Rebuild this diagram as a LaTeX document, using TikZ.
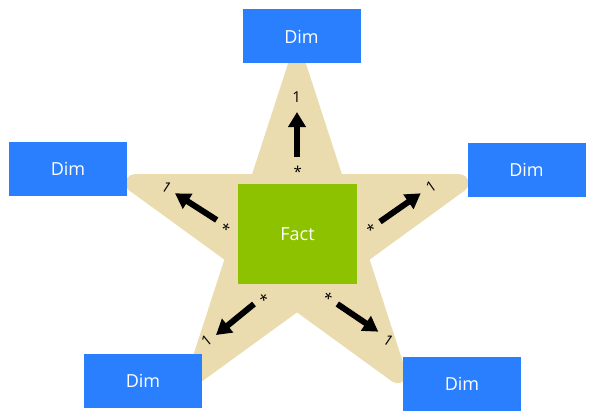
\documentclass[tikz,border=0pt]{standalone}
\usepackage{fontspec}
\setmainfont{Open Sans}
\definecolor{dimblue}{RGB}{42,127,255}
\definecolor{factgreen}{RGB}{140,194,0}
\definecolor{startan}{RGB}{235,220,175}
\usetikzlibrary{arrows.meta, calc}

\begin{document}
\begin{tikzpicture}[x=1pt, y=-1pt,
  dimbox/.style={fill=dimblue, text=white, minimum width=118pt,
    minimum height=54pt, inner sep=0pt, font=\fontsize{18}{21}\selectfont},
  factbox/.style={fill=factgreen, text=white, minimum width=119pt,
    minimum height=100pt, inner sep=0pt, font=\fontsize{18}{21}\selectfont},
  relarrow/.style={line width=6pt, -{Triangle[length=15pt, width=17pt]}},
  cardlab/.style={font=\fontsize{15}{17}\selectfont, inner sep=0pt}]

  \useasboundingbox (0,0) rectangle (595,420);

  % Star background (rounded tips)
  \coordinate (C) at (297,236);
  \fill[startan] ($(C)+(-126:76.4)$)
    \foreach \a in {-90,-18,54,126,198} {
      -- ($(C)+(\a:170.9)+({\a-72}:9)$)
      arc[start angle=\a-72, end angle=\a+72, radius=9]
      -- ($(C)+({\a+36}:76.4)$)
    } -- cycle;

  % Fact and dimensions
  \node[factbox] (fact) at (297.5,234) {Fact};
  \node[dimbox] (dimtop)   at (301.5,36.5) {Dim};
  \node[dimbox] (dimleft)  at (68,168.5)   {Dim};
  \node[dimbox] (dimright) at (526.5,169.5) {Dim};
  \node[dimbox] (dimbl)    at (143,381)    {Dim};
  \node[dimbox] (dimbr)    at (462,384)    {Dim};

  % Arrow ends
  \coordinate (tTail)  at (297,157);   \coordinate (tHead)  at (297,112);
  \coordinate (ulTail) at (216.7,220); \coordinate (ulHead) at (175,193.3);
  \coordinate (urTail) at (380,221.7); \coordinate (urHead) at (420.7,193.3);
  \coordinate (llTail) at (254,304);   \coordinate (llHead) at (216,335);
  \coordinate (lrTail) at (337.3,304); \coordinate (lrHead) at (378.3,331.7);

  \foreach \r in {t, ul, ur, ll, lr}
    \draw[relarrow] (\r Tail) -- (\r Head);

  % Cardinalities
  \foreach \r/\ox/\oy/\sx/\sy/\rot in
    {t/296.7/97.3/297.7/171.7/0, ul/166.7/187.3/225/229.3/-33,
     ur/431/186.7/371.7/229.3/35, ll/206.7/341/265/299/39,
     lr/388.3/340/327.3/298.3/-34} {
    \node[cardlab, rotate=\rot] (\r One)  at (\ox,\oy) {1};
    \node[cardlab, rotate=\rot] (\r Many) at (\sx,\sy) {*};
  }

\end{tikzpicture}
\end{document}
